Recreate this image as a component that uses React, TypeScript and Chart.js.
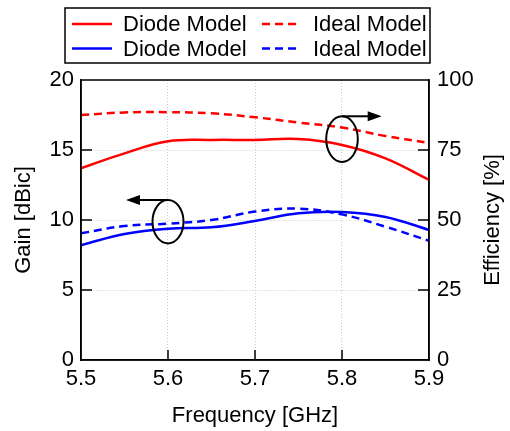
import React, { useEffect, useRef } from "react";
import { Chart, registerables } from "chart.js";

Chart.register(...registerables);

const frequencies = [5.5, 5.55, 5.6, 5.65, 5.7, 5.75, 5.8, 5.85, 5.9];
const gainDiode = [8.2, 9.0, 9.38, 9.48, 9.93, 10.48, 10.57, 10.22, 9.29];
const gainIdeal = [9.05, 9.57, 9.74, 10.0, 10.6, 10.81, 10.4, 9.52, 8.52];
const effDiode = [68.5, 73.8, 78.1, 78.6, 78.6, 78.9, 76.8, 72.0, 64.3];
const effIdeal = [87.5, 88.4, 88.5, 88.1, 86.7, 84.8, 83.0, 80.0, 77.5];

const xTicks = [5.5, 5.6, 5.7, 5.8, 5.9];
const gainTicks = [0, 5, 10, 15, 20];
const effTicks = [0, 25, 50, 75, 100];

const legendLabels = ["Diode Model", "Ideal Model", "Diode Model", "Ideal Model"];
const effTitle = "Efficiency [%]";

const FONT = "'Liberation Sans', Arial, sans-serif";
const FS = 22;

const toPts = (ys: number[]) => frequencies.map((x, i) => ({ x, y: ys[i] }));

const decorPlugin = {
  id: "decor",
  afterDatasetsDraw(chart: any) {
    const ctx = chart.ctx;
    const x = chart.scales.x;
    const yG = chart.scales.yGain;
    const yE = chart.scales.yEff;
    ctx.save();
    ctx.strokeStyle = "#000";
    ctx.fillStyle = "#000";
    ctx.lineWidth = 2;
    // annotation 1: gain (left)
    const c1x = x.getPixelForValue(5.6);
    const c1y = yG.getPixelForValue(9.88);
    ctx.beginPath();
    ctx.ellipse(c1x, c1y, 15.5, 21.7, 0, 0, Math.PI * 2);
    ctx.stroke();
    const a1y = c1y - 21.7;
    const a1tip = x.getPixelForValue(5.5517);
    ctx.beginPath();
    ctx.moveTo(c1x, a1y);
    ctx.lineTo(a1tip + 12, a1y);
    ctx.stroke();
    ctx.beginPath();
    ctx.moveTo(a1tip, a1y);
    ctx.lineTo(a1tip + 14, a1y - 5);
    ctx.lineTo(a1tip + 14, a1y + 5);
    ctx.closePath();
    ctx.fill();
    // annotation 2: efficiency (right)
    const c2x = x.getPixelForValue(5.8);
    const c2y = yE.getPixelForValue(78.9);
    ctx.beginPath();
    ctx.ellipse(c2x, c2y, 15.8, 22.8, 0, 0, Math.PI * 2);
    ctx.stroke();
    const a2y = c2y - 22.8;
    const a2tip = x.getPixelForValue(5.8456);
    ctx.beginPath();
    ctx.moveTo(c2x, a2y);
    ctx.lineTo(a2tip - 12, a2y);
    ctx.stroke();
    ctx.beginPath();
    ctx.moveTo(a2tip, a2y);
    ctx.lineTo(a2tip - 14, a2y - 5);
    ctx.lineTo(a2tip - 14, a2y + 5);
    ctx.closePath();
    ctx.fill();
    ctx.restore();
  },
  afterDraw(chart: any) {
    const ctx = chart.ctx;
    const { left, right, top, bottom } = chart.chartArea;
    const x = chart.scales.x;
    const yG = chart.scales.yGain;
    const yE = chart.scales.yEff;
    ctx.save();
    ctx.strokeStyle = "#000";
    ctx.lineWidth = 1.5;
    // box
    ctx.strokeRect(left, top, right - left, bottom - top);
    // inward ticks
    ctx.beginPath();
    xTicks.slice(1, -1).forEach((v) => {
      const px = x.getPixelForValue(v);
      ctx.moveTo(px, bottom);
      ctx.lineTo(px, bottom - 10);
    });
    gainTicks.slice(1, -1).forEach((v) => {
      const py = yG.getPixelForValue(v);
      ctx.moveTo(left, py);
      ctx.lineTo(left + 11, py);
    });
    effTicks.slice(1, -1).forEach((v) => {
      const py = yE.getPixelForValue(v);
      ctx.moveTo(right, py);
      ctx.lineTo(right - 11, py);
    });
    ctx.stroke();

    // right axis title (reads bottom to top)
    ctx.save();
    ctx.fillStyle = "#000";
    ctx.font = `${FS}px ${FONT}`;
    ctx.textAlign = "center";
    ctx.textBaseline = "middle";
    ctx.translate(yE.right - 17.5, (top + bottom) / 2);
    ctx.rotate(-Math.PI / 2);
    ctx.fillText(effTitle, 0, 0);
    ctx.restore();

    // legend
    const lx = 65, ly = 8, lw = 365, lh = 55;
    ctx.fillStyle = "#fff";
    ctx.fillRect(lx, ly, lw, lh);
    ctx.strokeRect(lx, ly, lw, lh);
    const ds = chart.data.datasets;
    const order = [2, 3, 0, 1]; // red solid, red dashed, blue solid, blue dashed
    const rowsY = [24, 48.5];
    const colLine = [[72, 112], [262, 300]];
    const colText = [123, 313];
    ctx.font = `${FS}px ${FONT}`;
    ctx.textBaseline = "middle";
    ctx.textAlign = "left";
    order.forEach((di, k) => {
      const row = Math.floor(k / 2);
      const col = k % 2;
      const d = ds[di];
      ctx.save();
      ctx.strokeStyle = d.borderColor;
      ctx.lineWidth = 2.5;
      ctx.setLineDash(d.borderDash || []);
      ctx.beginPath();
      ctx.moveTo(colLine[col][0], rowsY[row]);
      ctx.lineTo(colLine[col][1], rowsY[row]);
      ctx.stroke();
      ctx.restore();
      ctx.fillStyle = "#000";
      ctx.fillText(legendLabels[k], colText[col], rowsY[row] + 1);
    });
    ctx.restore();
  },
};

export default function App() {
  const ref = useRef<HTMLCanvasElement>(null);
  useEffect(() => {
    if (!ref.current) return;
    const chart = new Chart(ref.current, {
      type: "line",
      data: {
        datasets: [
          {
            label: "Diode Model",
            data: toPts(gainDiode),
            yAxisID: "yGain",
            borderColor: "#0000ff",
            borderWidth: 2.5,
            pointRadius: 0,
            tension: 0.4,
          },
          {
            label: "Ideal Model",
            data: toPts(gainIdeal),
            yAxisID: "yGain",
            borderColor: "#0000ff",
            borderDash: [8, 5],
            borderWidth: 2.5,
            pointRadius: 0,
            tension: 0.4,
          },
          {
            label: "Diode Model",
            data: toPts(effDiode),
            yAxisID: "yEff",
            borderColor: "#ff0000",
            borderWidth: 2.5,
            pointRadius: 0,
            tension: 0.4,
          },
          {
            label: "Ideal Model",
            data: toPts(effIdeal),
            yAxisID: "yEff",
            borderColor: "#ff0000",
            borderDash: [8, 5],
            borderWidth: 2.5,
            pointRadius: 0,
            tension: 0.4,
          },
        ],
      },
      options: {
        responsive: false,
        animation: false,
        layout: { padding: { top: 80, left: 0, right: 0, bottom: 0 } },
        plugins: { legend: { display: false }, tooltip: { enabled: false } },
        scales: {
          x: {
            type: "linear",
            min: 5.5,
            max: 5.9,
            afterFit: (s: any) => { s.height = 71; },
            afterBuildTicks: (s: any) => { s.ticks = xTicks.map((v) => ({ value: v })); },
            ticks: {
              color: "#000",
              font: { family: FONT, size: FS },
              padding: 6,
              maxRotation: 0,
              callback: (v: any) => Number(v).toFixed(1),
            },
            grid: { color: "#c8c8c8", lineWidth: 1, drawTicks: false },
            border: { display: true, color: "#000", width: 1.5, dash: [1, 2] },
            title: {
              display: true,
              text: "Frequency [GHz]",
              color: "#000",
              font: { family: FONT, size: FS },
              padding: 2,
            },
          },
          yGain: {
            type: "linear",
            position: "left",
            min: 0,
            max: 20,
            afterFit: (s: any) => { s.width = 81; },
            afterBuildTicks: (s: any) => { s.ticks = gainTicks.map((v) => ({ value: v })); },
            ticks: {
              color: "#000",
              font: { family: FONT, size: FS },
              padding: 7,
            },
            grid: { color: "#c8c8c8", lineWidth: 1, drawTicks: false },
            border: { display: true, color: "#000", width: 1.5, dash: [1, 2] },
            title: {
              display: true,
              text: "Gain [dBic]",
              color: "#000",
              font: { family: FONT, size: FS },
              padding: 11,
            },
          },
          yEff: {
            type: "linear",
            position: "right",
            min: 0,
            max: 100,
            afterFit: (s: any) => { s.width = 81; },
            afterBuildTicks: (s: any) => { s.ticks = effTicks.map((v) => ({ value: v })); },
            ticks: {
              color: "#000",
              font: { family: FONT, size: FS },
              padding: 8,
            },
            grid: { display: false, drawTicks: false },
            border: { display: true, color: "#000", width: 1.5 },
            title: { display: false },
          },
        },
      },
      plugins: [decorPlugin],
    } as any);
    return () => chart.destroy();
  }, []);
  return (
    <div style={{ position: "fixed", left: 0, top: 0, width: 510, height: 431, background: "#fff" }}>
      <canvas ref={ref} width={510} height={431} style={{ display: "block" }} />
    </div>
  );
}
